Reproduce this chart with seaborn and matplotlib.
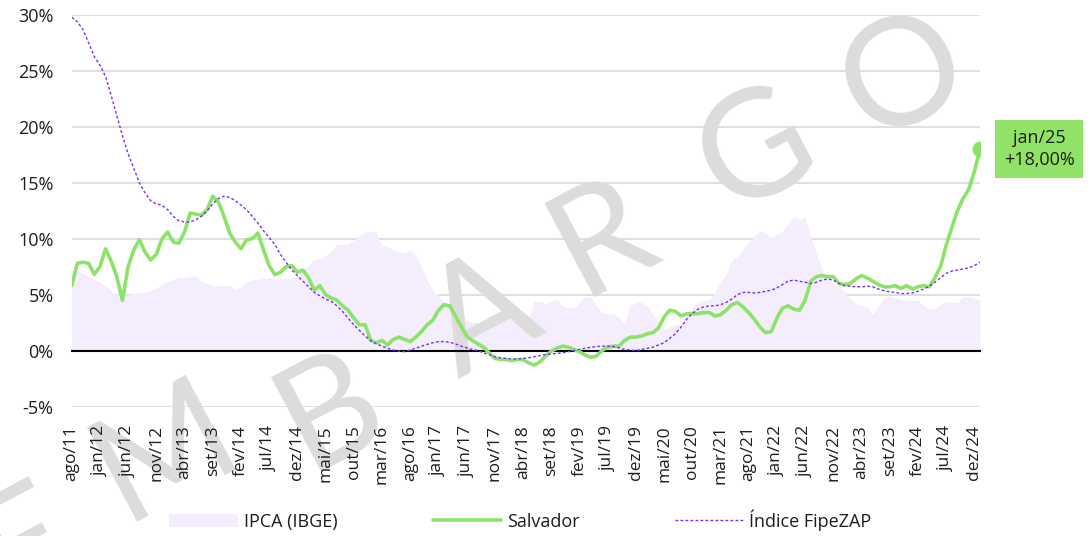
import numpy as np
import pandas as pd
import seaborn as sns
import matplotlib.pyplot as plt

# 12-month variation (%), monthly from ago/11 to jan/25
salvador = [
    5.8, 7.8, 7.9, 7.8, 6.8, 7.5, 9.1, 8.0, 6.6, 4.5,
    7.5, 9.0, 9.9, 8.8, 8.1, 8.6, 10.0, 10.6, 9.7, 9.6,
    10.6, 12.3, 12.2, 12.1, 12.6, 13.8, 13.3, 12.0, 10.5, 9.7,
    9.1, 9.9, 10.0, 10.5, 9.0, 7.6, 6.8, 7.0, 7.5, 7.6,
    7.0, 7.2, 6.5, 5.4, 5.8, 5.0, 4.7, 4.5, 4.0, 3.6,
    2.9, 2.3, 2.3, 0.9, 0.7, 0.9, 0.5, 1.0, 1.2, 1.0,
    0.8, 1.2, 1.7, 2.3, 2.7, 3.6, 4.1, 4.0, 3.1, 2.2,
    1.3, 0.9, 0.6, 0.3, -0.2, -0.7, -0.8, -0.8, -0.9, -0.8,
    -0.8, -1.1, -1.3, -1.0, -0.5, -0.05, 0.2, 0.4, 0.3, 0.1,
    -0.1, -0.4, -0.6, -0.5, 0.0, 0.3, 0.4, 0.4, 0.9, 1.2,
    1.2, 1.3, 1.5, 1.6, 2.0, 3.0, 3.6, 3.5, 3.1, 3.3,
    3.3, 3.3, 3.4, 3.4, 3.1, 3.2, 3.6, 4.1, 4.3, 3.9,
    3.4, 2.8, 2.1, 1.6, 1.7, 2.9, 3.8, 4.0, 3.7, 3.6,
    4.5, 6.2, 6.6, 6.7, 6.6, 6.6, 6.0, 5.9, 6.0, 6.4,
    6.7, 6.5, 6.2, 5.9, 5.7, 5.7, 5.8, 5.55, 5.8, 5.5,
    5.7, 5.8, 5.7, 6.5, 7.5, 9.4, 11.0, 12.5, 13.6, 14.4,
    16.0, 18.0,
]

ipca = [
    7.1, 7.2, 6.9, 6.6, 6.4, 6.1, 5.8, 5.3, 5.0, 5.0,
    5.0, 5.1, 5.2, 5.2, 5.4, 5.6, 5.9, 6.2, 6.3, 6.6,
    6.5, 6.6, 6.7, 6.2, 6.0, 5.8, 5.8, 5.8, 5.8, 5.5,
    5.7, 6.2, 6.3, 6.4, 6.5, 6.5, 6.4, 6.5, 6.4, 6.5,
    6.6, 7.1, 7.7, 8.1, 8.2, 8.5, 8.9, 9.5, 9.5, 9.5,
    9.9, 10.3, 10.6, 10.7, 10.5, 9.3, 9.3, 9.0, 8.8, 8.7,
    9.0, 8.5, 7.5, 6.3, 5.4, 4.9, 4.3, 4.0, 3.6, 3.0,
    2.7, 2.5, 2.5, 2.7, 3.0, 2.9, 3.0, 2.9, 2.8, 2.8,
    2.9, 2.9, 4.4, 4.4, 4.2, 4.4, 4.6, 4.0, 3.8, 3.8,
    4.3, 4.8, 4.8, 4.0, 3.4, 3.3, 3.3, 2.9, 2.4, 4.0,
    4.3, 4.3, 4.0, 3.3, 2.4, 1.9, 2.1, 2.3, 2.4, 3.1,
    3.9, 4.3, 4.5, 4.5, 5.2, 6.1, 6.8, 8.1, 8.4, 9.0,
    9.7, 10.2, 10.7, 10.5, 10.1, 10.4, 10.7, 11.3, 12.0, 11.7,
    11.9, 10.1, 8.7, 7.2, 6.5, 6.0, 5.8, 5.2, 4.6, 4.2,
    4.0, 3.9, 3.2, 4.0, 4.7, 4.9, 4.7, 4.6, 4.5, 4.5,
    4.5, 4.0, 3.7, 3.8, 4.1, 4.4, 4.3, 4.3, 4.8, 4.8,
    4.7, 4.5,
]

fipezap = [
    29.8, 29.4, 28.7, 27.5, 26.3, 25.5, 24.5, 22.8, 21.0, 19.2,
    17.6, 16.3, 15.0, 14.1, 13.4, 13.1, 13.0, 12.6, 12.0, 11.6,
    11.5, 11.5, 11.7, 12.0, 12.5, 13.1, 13.6, 13.8, 13.7, 13.4,
    13.0, 12.6, 12.0, 11.4, 10.7, 10.1, 9.5, 8.6, 7.9, 7.2,
    6.7, 6.2, 5.7, 5.2, 4.9, 4.6, 4.4, 4.0, 3.5, 2.9,
    2.3, 1.8, 1.3, 0.9, 0.6, 0.4, 0.2, 0.05, -0.05, -0.1,
    0.05, 0.2, 0.4, 0.55, 0.7, 0.8, 0.8, 0.75, 0.6, 0.4,
    0.25, 0.1, 0.0, -0.2, -0.35, -0.55, -0.65, -0.7, -0.75, -0.75,
    -0.7, -0.65, -0.55, -0.45, -0.35, -0.3, -0.25, -0.2, -0.1, 0.0,
    0.1, 0.2, 0.3, 0.35, 0.4, 0.4, 0.35, 0.25, 0.1, 0.05,
    0.0, 0.1, 0.2, 0.3, 0.5, 0.7, 1.1, 1.5, 2.1, 2.8,
    3.3, 3.7, 3.9, 4.0, 4.0, 4.1, 4.3, 4.6, 5.0, 5.2,
    5.2, 5.15, 5.2, 5.3, 5.4, 5.6, 5.9, 6.2, 6.3, 6.2,
    6.1, 6.0, 6.1, 6.3, 6.4, 6.3, 6.0, 5.8, 5.75, 5.7,
    5.7, 5.75, 5.7, 5.5, 5.35, 5.25, 5.2, 5.1, 5.1, 5.15,
    5.3, 5.5, 5.75, 6.1, 6.5, 6.9, 7.1, 7.2, 7.3, 7.4,
    7.6, 7.9,
]

tick_labels = [
    'ago/11', 'jan/12', 'jun/12', 'nov/12', 'abr/13', 'set/13', 'fev/14',
    'jul/14', 'dez/14', 'mai/15', 'out/15', 'mar/16', 'ago/16', 'jan/17',
    'jun/17', 'nov/17', 'abr/18', 'set/18', 'fev/19', 'jul/19', 'dez/19',
    'mai/20', 'out/20', 'mar/21', 'ago/21', 'jan/22', 'jun/22', 'nov/22',
    'abr/23', 'set/23', 'fev/24', 'jul/24', 'dez/24',
]
last_label = 'jan/25'
y_ticks = [-5, 0, 5, 10, 15, 20, 25, 30]

GREEN = '#8de36a'
BOX = '#90e366'
PURPLE = '#7a2ff0'
LAVENDER = '#f3edfd'
TEXT = '#1e1e1e'

df = pd.DataFrame({
    'mes': np.arange(len(salvador)),
    'IPCA (IBGE)': ipca,
    'Salvador': salvador,
    'Índice FipeZAP': fipezap,
})

sns.set_style('white')
plt.rcParams['font.family'] = ['Open Sans', 'DejaVu Sans']

W, H = 1091, 536
fig = plt.figure(figsize=(W / 100, H / 100), dpi=100)
ax = fig.add_axes([71.7 / W, 1 - 406.5 / H, 908.3 / W, 391.5 / H])

# gridlines below everything
for y in y_ticks:
    if y != 0:
        ax.axhline(y, color='#dcdcdc', lw=1.3, zorder=0.5)

ax.fill_between(df['mes'], 0, df['IPCA (IBGE)'], color=LAVENDER, lw=0,
                zorder=1, label='IPCA (IBGE)')

# watermark
letters = ['E', 'M', 'B', 'A', 'R', 'G', 'O']
spots = [(25, 545), (165, 452), (330, 412), (482, 318), (602, 238), (757, 152), (905, 78)]
for ch, (px, py) in zip(letters, spots):
    ax.text(px / W, 1 - py / H, ch, transform=fig.transFigure, fontsize=108,
            color='#dcdcdc', rotation=28, ha='center', va='center',
            fontfamily='Lato', fontweight='normal', zorder=1.5)

sns.lineplot(data=df, x='mes', y='Salvador', ax=ax, color=GREEN, lw=2.6,
             zorder=3, label='Salvador')
sns.lineplot(data=df, x='mes', y='Índice FipeZAP', ax=ax, color=PURPLE, lw=1,
             ls=(0, (2, 1.6)), zorder=3, label='Índice FipeZAP')

x_last = df['mes'].iloc[-1]
y_last = df['Salvador'].iloc[-1]
ax.scatter([x_last], [y_last], s=110, color=GREEN, zorder=4)
ax.annotate(f'{last_label}\n+{y_last:.2f}%'.replace('.', ','), xy=(x_last, y_last),
            xytext=(42.5, 0), textcoords='offset points', ha='center', va='center',
            fontsize=13, color=TEXT, linespacing=1.25, annotation_clip=False,
            bbox=dict(boxstyle='square,pad=0.5', fc=BOX, ec='none'))

ax.set_xlim(0, len(salvador) - 1)
ax.set_ylim(-5, 30)
ax.set(xlabel='', ylabel='')

for side in ['top', 'right', 'left']:
    ax.spines[side].set_visible(False)
ax.spines['bottom'].set_position(('data', 0))
ax.spines['bottom'].set_color('black')
ax.spines['bottom'].set_linewidth(1.5)
ax.spines['bottom'].set_zorder(2.5)

ax.set_xticks(np.arange(0, len(salvador) - 1, 5))
ax.set_xticklabels(tick_labels, rotation=90)
ax.tick_params(axis='x', direction='inout', length=7.5, width=1.2, color='black',
               pad=50, labelsize=12.5, labelcolor=TEXT)
ax.set_yticks(y_ticks)
ax.set_yticklabels([f'{y}%' for y in y_ticks])
ax.tick_params(axis='y', length=0, pad=13, labelsize=13, labelcolor=TEXT)
ax.xaxis.set_zorder(2.6)
ax.yaxis.set_zorder(2.6)

handles, labels = ax.get_legend_handles_labels()
if ax.get_legend() is not None:
    ax.get_legend().remove()
fig.legend(handles, labels, loc='center', bbox_to_anchor=(0.477, 0.03), ncol=3,
           frameon=False, fontsize=13, handlelength=3.8, columnspacing=5.3,
           handletextpad=0.3, labelcolor=TEXT)

fig.savefig('out.png', dpi=100)
